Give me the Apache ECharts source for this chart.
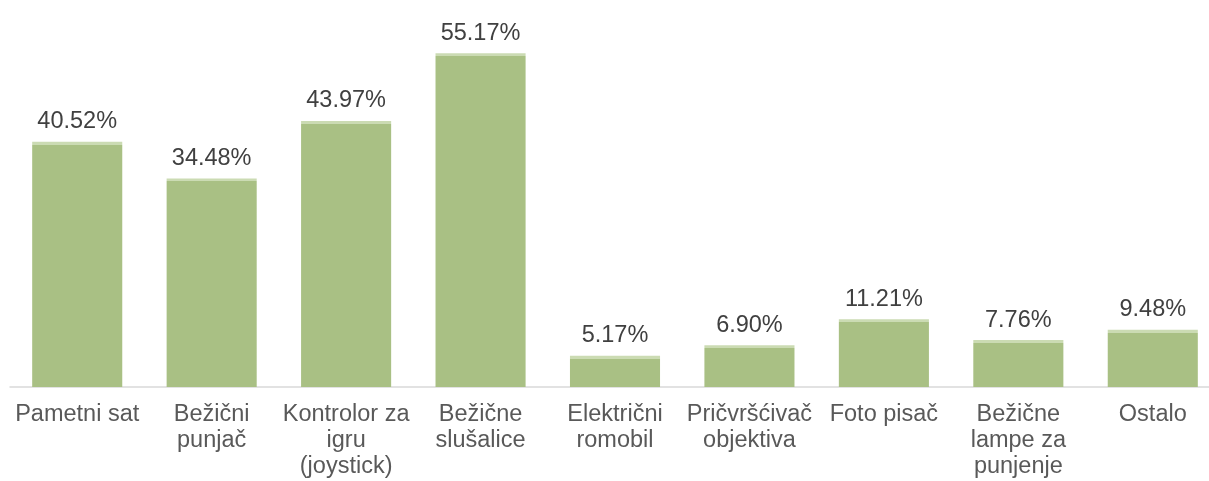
<!DOCTYPE html>
<html>
<head>
<meta charset="utf-8">
<script src="https://cdn.jsdelivr.net/npm/echarts@6/dist/echarts.min.js"></script>
<style>
  html, body { margin: 0; padding: 0; background: #fff; }
  #chart { width: 1209px; height: 481px; }
</style>
</head>
<body>
<div id="chart"></div>
<script>
// categories and values
var kategorije = [
  'Pametni sat',
  'Bežični\npunjač',
  'Kontrolor za\nigru\n(joystick)',
  'Bežične\nslušalice',
  'Električni\nromobil',
  'Pričvršćivač\nobjektiva',
  'Foto pisač',
  'Bežične\nlampe za\npunjenje',
  'Ostalo'
];
var postoci = [40.52, 34.48, 43.97, 55.17, 5.17, 6.90, 11.21, 7.76, 9.48];

var yMax = 60;
var plotHeight = 363;

// light strip on top of each bar (about 3px)
function barColor(v) {
  var k = 3 / (v / yMax * plotHeight);
  return new echarts.graphic.LinearGradient(0, 0, 0, 1, [
    { offset: 0, color: '#cbdbb3' },
    { offset: k, color: '#cbdbb3' },
    { offset: k, color: '#a9c084' },
    { offset: 1, color: '#a9c084' }
  ]);
}

var myChart = echarts.init(document.getElementById('chart'));

var option = {
  animation: false,
  grid: {
    left: 10, width: 1210, top: 24, height: plotHeight,
    containLabel: false,
    outerBoundsMode: 'none'
  },
  xAxis: {
    type: 'category',
    data: kategorije,
    axisTick: { show: false },
    axisLine: { lineStyle: { color: '#d9d9d9', width: 1.5 } },
    axisLabel: {
      interval: 0,
      color: '#595959',
      fontFamily: 'Liberation Sans, Arial, sans-serif',
      fontSize: 23.5,
      lineHeight: 26,
      margin: 15
    }
  },
  yAxis: {
    type: 'value',
    min: 0,
    max: yMax,
    show: false,
    splitLine: { show: false }
  },
  series: [{
    type: 'bar',
    data: postoci.map(function (v) {
      return { value: v, itemStyle: { color: barColor(v) } };
    }),
    barCategoryGap: '33%',
    label: {
      show: true,
      position: 'top',
      distance: 8,
      color: '#404040',
      fontFamily: 'Liberation Sans, Arial, sans-serif',
      fontSize: 23.5,
      formatter: function (p) { return p.value.toFixed(2) + '%'; }
    }
  }]
};

myChart.setOption(option);
</script>
</body>
</html>
